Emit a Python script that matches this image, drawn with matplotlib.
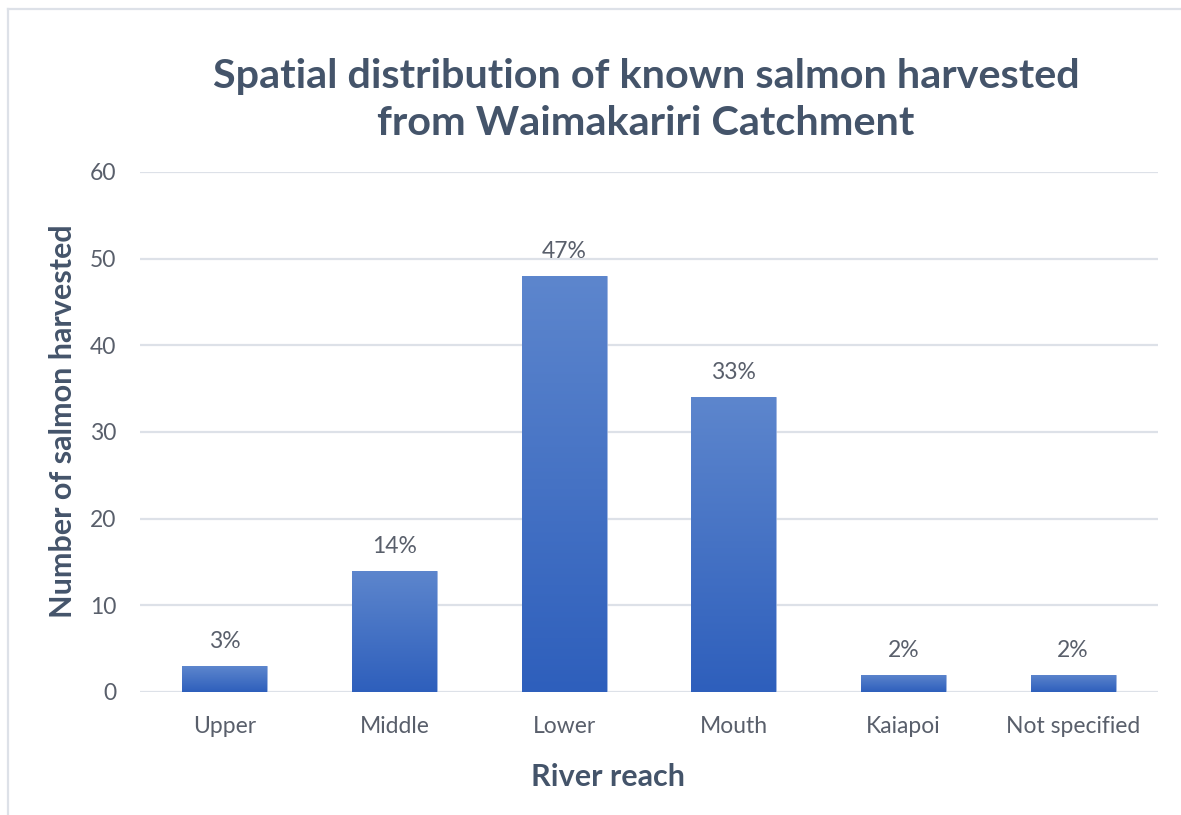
import matplotlib
matplotlib.use("Agg")
import matplotlib.pyplot as plt
import numpy as np
from matplotlib.colors import LinearSegmentedColormap
from matplotlib.lines import Line2D

categories = ["Upper", "Middle", "Lower", "Mouth", "Kaiapoi", "Not specified"]
counts = [3, 14, 48, 34, 2, 2]
pct_labels = ["3%", "14%", "47%", "33%", "2%", "2%"]
yticks = [0, 10, 20, 30, 40, 50, 60]

title = "Spatial distribution of known salmon harvested\nfrom Waimakariri Catchment"
xlabel = "River reach"
ylabel = "Number of salmon harvested"

plt.rcParams['font.family'] = ['Lato', 'DejaVu Sans']

W, H = 1181, 815
fig = plt.figure(figsize=(W / 100, H / 100), dpi=100)
ax = fig.add_axes([140 / W, 1 - 692 / H, (1158 - 140) / W, (692 - 172) / H])

x = np.arange(len(categories))
bars = ax.bar(x, counts, width=0.5, color='none', edgecolor='none', zorder=3)

cmap = LinearSegmentedColormap.from_list("g", ["#2E5FBC", "#5D86CD"])
grad = np.linspace(0, 1, 256).reshape(-1, 1)
for b in bars:
    x0, y0 = b.get_x(), b.get_y()
    w, h = b.get_width(), b.get_height()
    im = ax.imshow(grad, cmap=cmap, origin='lower', aspect='auto',
                   extent=[x0, x0 + w, y0, y0 + h], zorder=3)
    im.set_clip_path(b)
    b.set_edgecolor('#8FAADC')
    b.set_linewidth(0.6)

for b, lab in zip(bars, pct_labels):
    ax.annotate(lab, (b.get_x() + b.get_width() / 2, b.get_height()),
                xytext=(0, 10), textcoords='offset points', ha='center', va='bottom',
                fontsize=16.5, color='#595F6B')

ax.set_xlim(-0.5, len(categories) - 0.5)
ax.set_ylim(0, 60)
ax.set_yticks(yticks)
ax.set_xticks(x)
ax.set_xticklabels(categories)
ax.tick_params(axis='both', length=0, labelsize=16.5, labelcolor='#595F6B')
ax.tick_params(axis='y', pad=17)
ax.tick_params(axis='x', pad=17)
ax.grid(axis='y', color='#DDE1E8', linewidth=1.6, zorder=0)
ax.set_axisbelow(True)
for s in ax.spines.values():
    s.set_visible(False)

ax.set_xlabel(xlabel, fontsize=22, fontweight='bold', color='#44546A')
ax.set_ylabel(ylabel, fontsize=22, fontweight='bold', color='#44546A')
ax.xaxis.set_label_coords(0.46, -0.136)
ax.yaxis.set_label_coords(-0.062, 0.521)

fig.text(646 / W, 1 - 100 / H, title, ha='center', va='center', fontsize=29.8,
         fontweight='bold', color='#44546A', linespacing=1.36)

# outer chart border (partially visible)
fig.add_artist(Line2D([8 / W, 8 / W], [0, 1 - 9 / H], color='#DDE1E8', linewidth=1.6,
                      transform=fig.transFigure))
fig.add_artist(Line2D([8 / W, 1], [1 - 9 / H, 1 - 9 / H], color='#DDE1E8', linewidth=1.6,
                      transform=fig.transFigure))

fig.savefig("out.png", dpi=100)
